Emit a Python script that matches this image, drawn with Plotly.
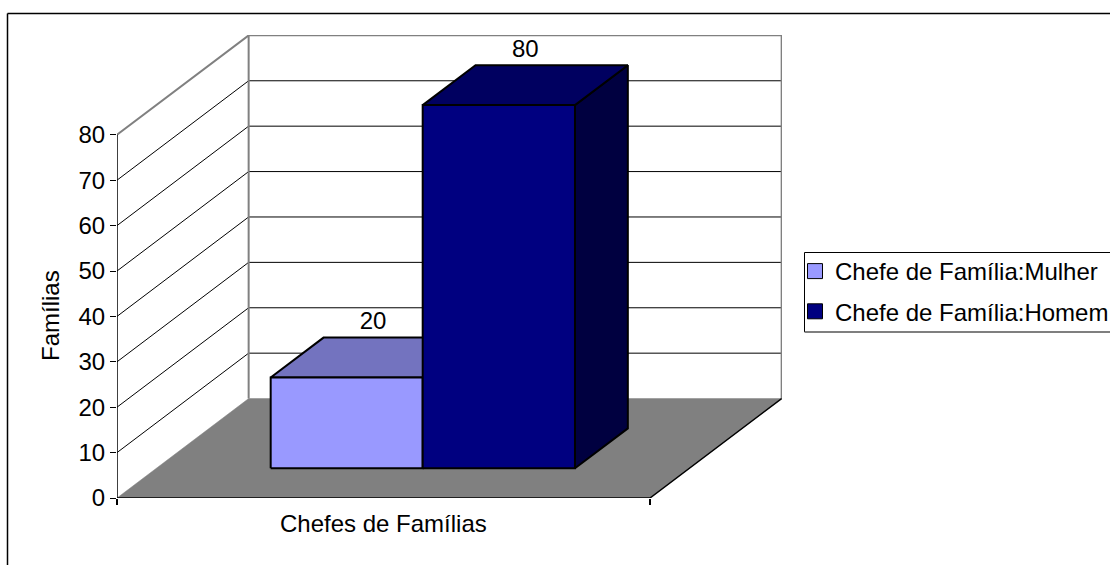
import plotly.graph_objects as go

# ---- data ----
series_names = ["Chefe de Família:Mulher", "Chefe de Família:Homem"]
series_values = [20, 80]
y_tick_values = [0, 10, 20, 30, 40, 50, 60, 70, 80]
x_title = "Chefes de Famílias"
y_title = "Famílias"

# ---- styles / projection of the fake 3-D box ----
FRONT = ["#9999FF", "#000080"]
TOP = ["#7373BF", "#000060"]
SIDE = ["#7373BF", "#000040"]
W, H = 1110, 565
L, R, T, B = 117, 782, 35, 498      # plot area in px
X_MAX = (R - L) / 533
Y_MAX = (B - T) / 4.54
DX, DY = 0.247, 21.9                # full depth shift in axis units
BAR_EDGES = [0.2146, 0.4998, 0.7855]
D0, D1 = 0.2985, 0.70               # bar depth limits
FONT = "Liberation Sans"
FS = 24


def proj(x, y, d):
    return x + d * DX, y + d * DY


def poly(points):
    xs, ys = zip(*[proj(*p) for p in points])
    return list(xs), list(ys)


def px(x):
    return (x - L) / (R - L)


def py(y):
    return (B - y) / (B - T)


fig = go.Figure()


def line(points, color, width):
    xs, ys = poly(points)
    fig.add_trace(go.Scatter(x=xs, y=ys, mode="lines", showlegend=False, hoverinfo="skip",
                             line=dict(color=color, width=width)))


def face(points, fill, width=2):
    xs, ys = poly(points)
    fig.add_trace(go.Scatter(x=xs, y=ys, mode="lines", fill="toself", fillcolor=fill,
                             showlegend=False, hoverinfo="skip",
                             line=dict(color="black", width=width)))


top_v = y_tick_values[-1]
# floor
xs, ys = poly([(0, 0, 0), (1, 0, 0), (1, 0, 1), (0, 0, 1), (0, 0, 0)])
fig.add_trace(go.Scatter(x=xs, y=ys, mode="lines", fill="toself", fillcolor="#808080",
                         showlegend=False, hoverinfo="skip", line=dict(color="#808080", width=0.5)))
# grid on side and back walls
for v in y_tick_values[1:-1]:
    line([(0, v, 0), (0, v, 1), (1, v, 1)], "black", 1)
# wall outline
line([(0, top_v, 0), (0, top_v, 1), (1, top_v, 1), (1, 0, 1)], "#808080", 2)
line([(0, 0, 1), (0, top_v, 1)], "#808080", 2)
# axis lines
line([(0, 0, 0), (0, top_v, 0)], "black", 1.5)
line([(0, 0, 0), (1, 0, 0), (1, 0, 1)], "black", 1.5)

# bars
for i, v in enumerate(series_values):
    x0, x1 = BAR_EDGES[i], BAR_EDGES[i + 1]
    face([(x1, 0, D0), (x1, 0, D1), (x1, v, D1), (x1, v, D0), (x1, 0, D0)], SIDE[i])
    face([(x0, v, D0), (x1, v, D0), (x1, v, D1), (x0, v, D1), (x0, v, D0)], TOP[i])
    face([(x0, 0, D0), (x1, 0, D0), (x1, v, D0), (x0, v, D0), (x0, 0, D0)], FRONT[i])

# value labels
for i, v in enumerate(series_values):
    cx, cy = proj((BAR_EDGES[i] + BAR_EDGES[i + 1]) / 2, v, (D0 + D1) / 2)
    fig.add_trace(go.Scatter(x=[cx], y=[cy + 34.5 / 4.54], mode="text", text=[str(v)],
                             textposition="middle center", showlegend=False, hoverinfo="skip",
                             cliponaxis=False,
                             textfont=dict(family=FONT, size=FS, color="black")))

# legend entries
for i, name in enumerate(series_names):
    fig.add_trace(go.Scatter(x=[None], y=[None], mode="markers", name=name, legendgroup=name,
                             marker=dict(symbol="square", size=15, color=FRONT[i],
                                         line=dict(color="black", width=1))))

rule = dict(color="black", width=1.5)
shapes = [
    dict(type="line", xref="paper", yref="paper", x0=px(7.5), x1=px(1110), y0=py(13.5), y1=py(13.5), line=rule),
    dict(type="line", xref="paper", yref="paper", x0=px(7.5), x1=px(7.5), y0=py(13.5), y1=py(565), line=rule),
    dict(type="line", xref="paper", yref="paper", x0=px(804.5), x1=px(1110), y0=py(252.5), y1=py(252.5),
         line=dict(color="black", width=1)),
    dict(type="line", xref="paper", yref="paper", x0=px(804.5), x1=px(804.5), y0=py(252.5), y1=py(332),
         line=dict(color="black", width=1)),
    dict(type="line", xref="paper", yref="paper", x0=px(804.5), x1=px(1110), y0=py(332), y1=py(332),
         line=dict(color="#555555", width=1.5)),
]

annotations = [
    dict(x=0.5, y=py(523), xref="x", yref="paper", text=x_title, showarrow=False,
         xanchor="center", yanchor="middle", font=dict(family=FONT, size=FS, color="black")),
    dict(x=px(50), y=py(316), xref="paper", yref="paper", text=y_title, showarrow=False, textangle=-90,
         xanchor="center", yanchor="middle", font=dict(family=FONT, size=FS, color="black")),
]

fig.update_layout(
    width=W, height=H, autosize=False,
    margin=dict(l=L, r=W - R, t=T, b=H - B, pad=0, autoexpand=False),
    paper_bgcolor="white", plot_bgcolor="white",
    hovermode=False, shapes=shapes, annotations=annotations,
    font=dict(family=FONT, size=FS, color="black"),
    legend=dict(x=px(795), y=py(249), xanchor="left", yanchor="top", traceorder="grouped",
                tracegroupgap=6, bgcolor="rgba(0,0,0,0)", borderwidth=0,
                font=dict(family=FONT, size=FS, color="black")),
    showlegend=True,
    xaxis=dict(range=[0, X_MAX], showgrid=False, zeroline=False, showline=False, fixedrange=True,
               tickmode="array", tickvals=[0, 1], ticktext=["", ""], ticks="outside", ticklen=6,
               tickwidth=1.5, tickcolor="black"),
    yaxis=dict(range=[0, Y_MAX], showgrid=False, zeroline=False, showline=False, fixedrange=True,
               tickmode="array", tickvals=y_tick_values, ticks="outside", ticklen=6, tickwidth=1,
               tickcolor="black", tickfont=dict(family=FONT, size=FS, color="black")),
)

fig.write_html("out.html", config=dict(displayModeBar=False),
               post_script="document.body.style.margin='0';document.body.style.overflow='hidden';")
